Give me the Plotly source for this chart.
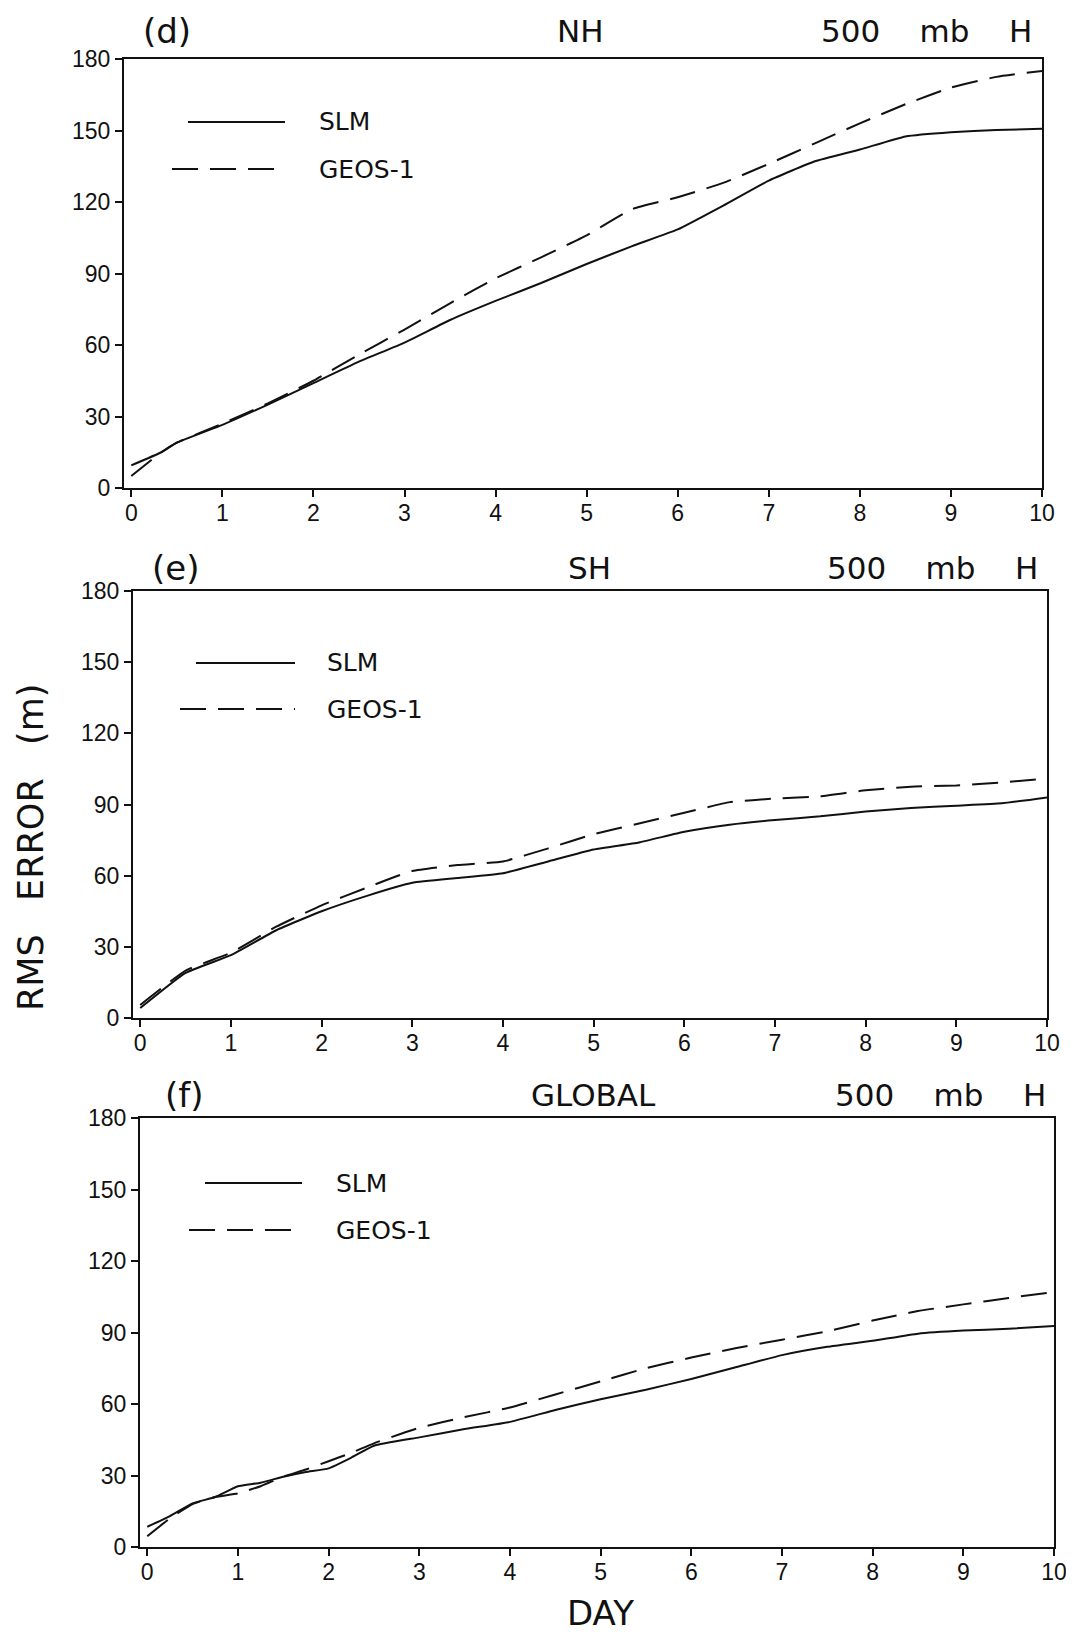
import plotly.graph_objects as go

# window size and page body offset (default 8px body margin in the html page)
WIN_W, WIN_H = 1074, 1640
OFF = 8
W, H = WIN_W - 2 * OFF, WIN_H - 2 * OFF

# ---------------- data ----------------
days_nh = [0, 0.33, 0.5, 1, 1.5, 2, 2.5, 3, 3.5, 4, 4.5, 5, 5.5, 6, 6.5, 7, 7.5, 8, 8.5, 9, 9.5, 10]
slm_nh = [9.5, 15, 19, 26.5, 35, 44, 53, 61, 70.5, 78.5, 86, 94, 101.5, 108.5, 118.5, 129, 137, 142, 147.5, 149.3, 150.2, 150.7]
geos_nh = [5, 15, 19, 27, 35.5, 45, 56, 66.5, 77.5, 88, 96.8, 106, 117, 122, 128, 136, 144.5, 153, 161, 168, 172.5, 175]

days_sh = [0, 0.5, 1, 1.5, 2, 2.5, 3, 3.5, 4, 4.5, 5, 5.5, 6, 6.5, 7, 7.5, 8, 8.5, 9, 9.5, 10]
slm_sh = [4.2, 19, 26.5, 37, 45, 51.5, 57, 59, 61, 66, 71, 74, 78.5, 81.5, 83.5, 85, 87, 88.5, 89.5, 90.5, 93]
geos_sh = [5.5, 20, 27.5, 38.5, 47.5, 55, 62, 64.5, 66, 71.5, 77.5, 82, 86.5, 91, 92.5, 93.5, 96, 97.5, 98, 99.3, 101]

days_gl = [0, 0.25, 0.5, 0.75, 1, 1.25, 1.5, 1.75, 2, 2.25, 2.5, 3, 3.5, 4, 4.5, 5, 5.5, 6, 6.5, 7, 7.5, 8, 8.5, 9, 9.5, 10]
slm_gl = [8.5, 13, 18.3, 21, 25.5, 27, 29.5, 31.5, 33, 37.5, 42.5, 46, 49.5, 52.5, 57.5, 62, 66, 70.5, 75.5, 80.5, 84, 86.5, 89.5, 90.8, 91.6, 92.7]
geos_gl = [4.5, 12, 18, 21, 22.5, 25.5, 29.5, 32.5, 36, 39.5, 43.5, 50, 54.5, 58.5, 64, 69.5, 75, 79.5, 83.5, 87, 90.5, 95, 99, 101.8, 104.5, 107]

panel_tags = ["(d)", "(e)", "(f)"]
panel_regions = ["NH", "SH", "GLOBAL"]
panel_field = "500 mb H"
series_names = ["SLM", "GEOS-1"]
x_ticks = list(range(0, 11))
y_ticks = [0, 30, 60, 90, 120, 150, 180]
y_title = "RMS ERROR (m)"
x_title = "DAY"

panels = [
    (days_nh, slm_nh, geos_nh),
    (days_sh, slm_sh, geos_sh),
    (days_gl, slm_gl, geos_gl),
]

# pixel boxes of the plot frames in window pixels: (left, right, top, bottom)
boxes = [
    (124, 1042, 59, 488),
    (133, 1047, 591, 1018),
    (140, 1054, 1118, 1547),
]
# legend anchor: (line x0, line x1, text x, y solid, y dashed)
legend_pos = [
    (180, 285, 317, 122, 169),
    (188, 295, 325, 663, 709),
    (197, 302, 334, 1183, 1230),
]
title_pos = [
    # (tag x, region center x, field right x, y)
    (141, 580, 1034, 31),
    (150, 589, 1040, 568),
    (163, 593, 1048, 1095),
]

INK = "#111111"
FONT = "Liberation Sans, Arial, sans-serif"
TFONT = "DejaVu Sans, Liberation Sans, sans-serif"
DASH = "26px,12px"


def px(x):
    return (x - OFF) / W


def py(y):
    return 1 - (y - OFF) / H


fig = go.Figure()

for i, (days, slm, geos) in enumerate(panels):
    n = "" if i == 0 else str(i + 1)
    xa, ya = "x" + n, "y" + n
    fig.add_trace(go.Scatter(x=days, y=slm, mode="lines", name=series_names[0],
                             line=dict(color=INK, width=2, shape="spline", smoothing=0.4),
                             xaxis=xa, yaxis=ya, showlegend=False))
    fig.add_trace(go.Scatter(x=days, y=geos, mode="lines", name=series_names[1],
                             line=dict(color=INK, width=2, dash=DASH, shape="spline", smoothing=0.4),
                             xaxis=xa, yaxis=ya, showlegend=False))
    l, r, t, b = boxes[i]
    axis_common = dict(showline=True, mirror=True, linecolor=INK, linewidth=2,
                       ticks="outside", ticklen=7, tickwidth=1.5, tickcolor=INK,
                       showgrid=False, zeroline=False, automargin=False,
                       ticklabeloverflow="allow",
                       tickfont=dict(family=FONT, size=23, color=INK))
    fig.update_layout(**{
        "xaxis" + n: dict(domain=[px(l), px(r)], range=[-0.08, 10], tickvals=x_ticks,
                          anchor=ya, ticklabelstandoff=-4, **axis_common),
        "yaxis" + n: dict(domain=[py(b), py(t)], range=[0, 180], tickvals=y_ticks,
                          anchor=xa, **axis_common),
    })

    # legend samples
    lx0, lx1, tx, ys, yd = legend_pos[i]
    fig.add_shape(type="line", xref="paper", yref="paper", x0=px(lx0 + 8), x1=px(lx1), y0=py(ys), y1=py(ys),
                  line=dict(color=INK, width=2))
    fig.add_shape(type="line", xref="paper", yref="paper", x0=px(lx0 - 8), x1=px(lx1), y0=py(yd), y1=py(yd),
                  line=dict(color=INK, width=2, dash=DASH))
    for txt, yy in zip(series_names, (ys, yd)):
        fig.add_annotation(x=px(tx), y=py(yy), xref="paper", yref="paper", text=txt,
                           showarrow=False, xanchor="left", yanchor="middle",
                           font=dict(family=TFONT, size=25, color=INK))

    # panel titles
    tgx, rcx, frx, ty = title_pos[i]
    fig.add_annotation(x=px(tgx), y=py(ty), xref="paper", yref="paper", text=panel_tags[i],
                       showarrow=False, xanchor="left", yanchor="middle",
                       font=dict(family=TFONT, size=34, color=INK))
    fig.add_annotation(x=px(rcx), y=py(ty), xref="paper", yref="paper", text=panel_regions[i],
                       showarrow=False, xanchor="center", yanchor="middle",
                       font=dict(family=TFONT, size=31, color=INK))
    fig.add_annotation(x=px(frx), y=py(ty), xref="paper", yref="paper",
                       text=panel_field.replace(" ", "&nbsp;&nbsp;&nbsp;&nbsp;"),
                       showarrow=False, xanchor="right", yanchor="middle",
                       font=dict(family=TFONT, size=31, color=INK))

# axis titles
fig.add_annotation(x=px(31), y=py(847), xref="paper", yref="paper", text=y_title.replace(" ", "&nbsp;&nbsp;&nbsp;"),
                   showarrow=False, textangle=-90, xanchor="center", yanchor="middle",
                   font=dict(family=TFONT, size=35, color=INK))
fig.add_annotation(x=px(600), y=py(1613), xref="paper", yref="paper", text=x_title,
                   showarrow=False, xanchor="center", yanchor="middle",
                   font=dict(family=TFONT, size=34, color=INK))

fig.update_layout(width=W, height=H, margin=dict(l=0, r=0, t=0, b=0),
                  paper_bgcolor="white", plot_bgcolor="white", showlegend=False)

fig.write_html("out.html")
